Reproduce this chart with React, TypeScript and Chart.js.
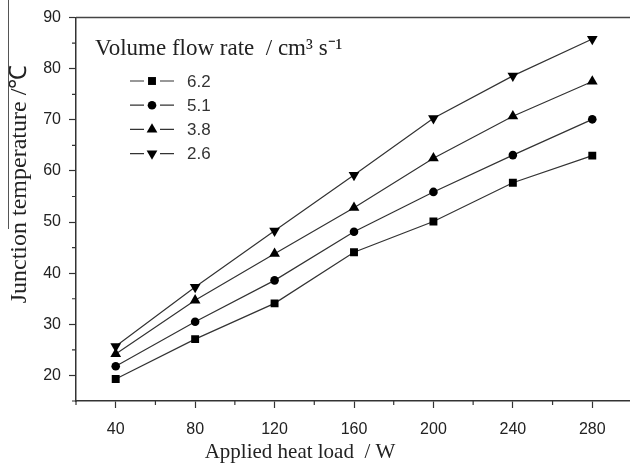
import React, { useEffect, useRef } from 'react';
import { Chart, registerables } from 'chart.js';

Chart.register(...registerables);

// ---- data ----
const heatLoads = [40, 80, 120, 160, 200, 240, 280];
const flow62 = [19.3, 27.1, 34.1, 44.1, 50.1, 57.7, 63.0];
const flow51 = [21.8, 30.5, 38.6, 48.1, 55.9, 63.1, 70.1];
const flow38 = [24.2, 34.7, 43.8, 52.8, 62.5, 70.7, 77.5];
const flow26 = [25.7, 37.3, 48.3, 59.2, 70.3, 78.6, 85.8];
const seriesLabels = ['6.2', '5.1', '3.8', '2.6'];

const xMajorTicks = [40, 80, 120, 160, 200, 240, 280];
const xMinorTicks = [20, 60, 100, 140, 180, 220, 260, 300];
const yMajorTicks = [20, 30, 40, 50, 60, 70, 80, 90];
const yMinorTicks = [15, 25, 35, 45, 55, 65, 75, 85];

const xTitle = 'Applied heat load  / W';
const yTitle = 'Junction temperature /\u2103';
const legendTitle = 'Volume flow rate  / cm\u00B3 s\u207B\u00B9';

const SANS = '"Liberation Sans", Arial, sans-serif';
const SERIF = '"Liberation Serif", "Times New Roman", serif';
const INK = '#222';

type Marker = { style: string; rotation: number; radius: number };
const markers: Marker[] = [
  { style: 'rect', rotation: 0, radius: 5.6 },
  { style: 'circle', rotation: 0, radius: 4.3 },
  { style: 'triangle', rotation: 0, radius: 6.2 },
  { style: 'triangle', rotation: 180, radius: 6.2 },
];

function drawMarker(ctx: CanvasRenderingContext2D, m: Marker, x: number, y: number) {
  ctx.beginPath();
  if (m.style === 'rect') {
    const s = m.radius * Math.SQRT1_2;
    ctx.rect(x - s, y - s, 2 * s, 2 * s);
  } else if (m.style === 'circle') {
    ctx.arc(x, y, m.radius, 0, Math.PI * 2);
  } else {
    let rad = (m.rotation * Math.PI) / 180;
    ctx.moveTo(x + Math.sin(rad) * m.radius, y - Math.cos(rad) * m.radius);
    for (let k = 0; k < 2; k++) {
      rad += (2 * Math.PI) / 3;
      ctx.lineTo(x + Math.sin(rad) * m.radius, y - Math.cos(rad) * m.radius);
    }
    ctx.closePath();
  }
  ctx.fill();
}

const decorPlugin = {
  id: 'decor',
  afterDraw(chart: any) {
    const ctx: CanvasRenderingContext2D = chart.ctx;
    const { left, right, top, bottom } = chart.chartArea;
    const xs = chart.scales.x;
    const ys = chart.scales.y;
    ctx.save();
    // frame (top + right)
    ctx.strokeStyle = '#444';
    ctx.lineWidth = 1.5;
    ctx.beginPath();
    ctx.moveTo(left, top);
    ctx.lineTo(right, top);
    ctx.lineTo(right, bottom);
    ctx.stroke();
    // minor ticks
    ctx.strokeStyle = '#333';
    ctx.lineWidth = 1.2;
    ctx.beginPath();
    xMinorTicks.forEach((v) => {
      const px = xs.getPixelForValue(v);
      ctx.moveTo(px, bottom);
      ctx.lineTo(px, bottom + 4);
    });
    yMinorTicks.forEach((v) => {
      const py = ys.getPixelForValue(v);
      ctx.moveTo(left - 4, py);
      ctx.lineTo(left, py);
    });
    ctx.stroke();

    // axis titles
    ctx.fillStyle = INK;
    ctx.font = `21px ${SERIF}`;
    ctx.textAlign = 'center';
    ctx.textBaseline = 'alphabetic';
    ctx.fillText(xTitle, 300, 458);
    ctx.save();
    ctx.font = `24px ${SERIF}`;
    ctx.translate(26, 184);
    ctx.rotate(-Math.PI / 2);
    ctx.fillText(yTitle, 0, 0);
    ctx.restore();

    // stray vertical rule at left edge
    ctx.strokeStyle = '#555';
    ctx.lineWidth = 1;
    ctx.beginPath();
    ctx.moveTo(8.5, 0);
    ctx.lineTo(8.5, 229);
    ctx.stroke();

    // legend
    ctx.fillStyle = INK;
    ctx.textAlign = 'left';
    ctx.font = `23px ${SERIF}`;
    ctx.fillText(legendTitle, 95, 55);
    chart.data.datasets.forEach((ds: any, i: number) => {
      const cy = 81 + i * 24.2;
      ctx.strokeStyle = '#333';
      ctx.lineWidth = 1.2;
      ctx.beginPath();
      ctx.moveTo(130, cy);
      ctx.lineTo(144, cy);
      ctx.moveTo(160, cy);
      ctx.lineTo(174, cy);
      ctx.stroke();
      ctx.fillStyle = '#000';
      drawMarker(ctx, markers[i], 152, cy);
      ctx.fillStyle = '#333';
      ctx.font = `17px ${SANS}`;
      ctx.textBaseline = 'middle';
      ctx.fillText(ds.label, 187, cy + 1);
      ctx.textBaseline = 'alphabetic';
    });
    ctx.restore();
  },
};

export default function App() {
  const canvasRef = useRef<HTMLCanvasElement | null>(null);

  useEffect(() => {
    document.body.style.margin = '0';
    document.body.style.overflow = 'hidden';
    const canvas = canvasRef.current;
    if (!canvas) return;
    const series = [flow62, flow51, flow38, flow26];
    const chart = new Chart(canvas, {
      type: 'line',
      data: {
        datasets: series.map((vals, i) => ({
          label: seriesLabels[i],
          data: heatLoads.map((x, j) => ({ x, y: vals[j] })),
          borderColor: '#333',
          borderWidth: 1.2,
          backgroundColor: '#000',
          pointBackgroundColor: '#000',
          pointBorderWidth: 0,
          pointStyle: markers[i].style as any,
          pointRotation: markers[i].rotation,
          pointRadius: markers[i].radius,
          tension: 0,
          fill: false,
        })),
      },
      options: {
        animation: false,
        responsive: false,
        devicePixelRatio: 1,
        layout: { padding: { top: 13, right: 8, left: 0, bottom: 0 } },
        plugins: { legend: { display: false }, tooltip: { enabled: false } },
        scales: {
          x: {
            type: 'linear',
            min: 20,
            max: 300,
            afterBuildTicks: (s: any) => {
              s.ticks = xMajorTicks.map((v) => ({ value: v }));
            },
            afterFit: (s: any) => {
              s.height = 67;
            },
            grid: { drawOnChartArea: false, drawTicks: true, tickLength: 7, tickColor: '#333', tickWidth: 1.2 },
            border: { display: true, color: '#333', width: 1.5 },
            ticks: { font: { family: SANS, size: 16 }, color: INK, padding: 12, maxRotation: 0, autoSkip: false },
          },
          y: {
            type: 'linear',
            min: 15,
            max: 90,
            afterBuildTicks: (s: any) => {
              s.ticks = yMajorTicks.map((v) => ({ value: v }));
            },
            afterFit: (s: any) => {
              s.width = 76;
            },
            grid: { drawOnChartArea: false, drawTicks: true, tickLength: 7, tickColor: '#333', tickWidth: 1.2 },
            border: { display: true, color: '#333', width: 1.5 },
            ticks: { font: { family: SANS, size: 16 }, color: INK, padding: 8, autoSkip: false },
          },
        },
      },
      plugins: [decorPlugin],
    });
    return () => chart.destroy();
  }, []);

  return (
    <div style={{ position: 'fixed', left: 0, top: 0, width: 630, height: 468, overflow: 'hidden', background: '#fff' }}>
      <canvas ref={canvasRef} width={640} height={468} style={{ display: 'block' }} />
    </div>
  );
}
